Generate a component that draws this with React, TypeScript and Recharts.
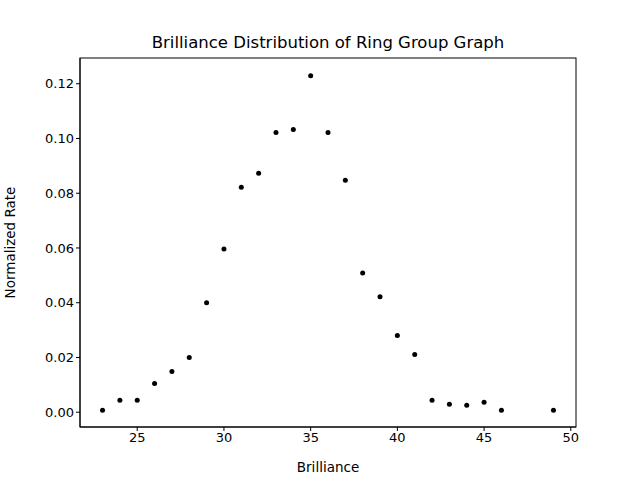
import { ScatterChart, Scatter, XAxis, YAxis } from 'recharts';

const brilliance = [23, 24, 25, 26, 27, 28, 29, 30, 31, 32, 33, 34, 35, 36, 37, 38, 39, 40, 41, 42, 43, 44, 45, 46, 49];
const rates = [
  0.0007, 0.0044, 0.0044, 0.0105, 0.0149, 0.02, 0.04, 0.0596, 0.0822, 0.0873, 0.1022, 0.1033, 0.1229,
  0.1022, 0.0847, 0.0509, 0.0422, 0.028, 0.0211, 0.0044, 0.0029, 0.0025, 0.0036, 0.0007, 0.0007,
];
const xTicks = [25, 30, 35, 40, 45, 50];
const yTicks = [0, 0.02, 0.04, 0.06, 0.08, 0.1, 0.12];

const data = brilliance.map((b, i) => ({ b, r: rates[i] }));
const font = 'DejaVu Sans';
const tick = { fontSize: 13, fill: '#000', fontFamily: font };

const Dot = (p: any) => <circle cx={p.cx} cy={p.cy} r={2.5} fill="#000" />;

export default function App() {
  return (
    <div style={{ position: 'absolute', left: 0, top: 0, width: 640, height: 480, background: '#fff' }}>
      <div
        style={{
          position: 'absolute', top: 33, left: 80, width: 496, textAlign: 'center',
          fontFamily: font, fontSize: 16.5, color: '#000',
        }}
      >
        Brilliance Distribution of Ring Group Graph
      </div>
      <ScatterChart width={640} height={480} margin={{ top: 58, right: 64, left: 0, bottom: 0 }}>
        <XAxis
          type="number"
          dataKey="b"
          domain={[21.7, 50.3]}
          ticks={xTicks}
          tick={tick}
          tickSize={4}
          height={53}
          stroke="#000"
          mirror={false}
          label={{ value: 'Brilliance', position: 'insideBottom', offset: 8, fill: '#000', fontSize: 13.5, fontFamily: font }}
          allowDataOverflow
        />
        <YAxis
          type="number"
          dataKey="r"
          domain={[-0.0054, 0.1294]}
          ticks={yTicks}
          tickFormatter={(v: number) => v.toFixed(2)}
          tick={tick}
          tickSize={4}
          width={80}
          stroke="#000"
          label={{ value: 'Normalized Rate', angle: -90, position: 'insideLeft', offset: 10, fill: '#000', fontSize: 13.5, fontFamily: font, style: { textAnchor: 'middle' } }}
          allowDataOverflow
        />
        <Scatter data={data} shape={Dot} isAnimationActive={false} />
        <svg>
          <rect x={80} y={58} width={496} height={369} fill="none" stroke="#000" />
        </svg>
      </ScatterChart>
    </div>
  );
}
